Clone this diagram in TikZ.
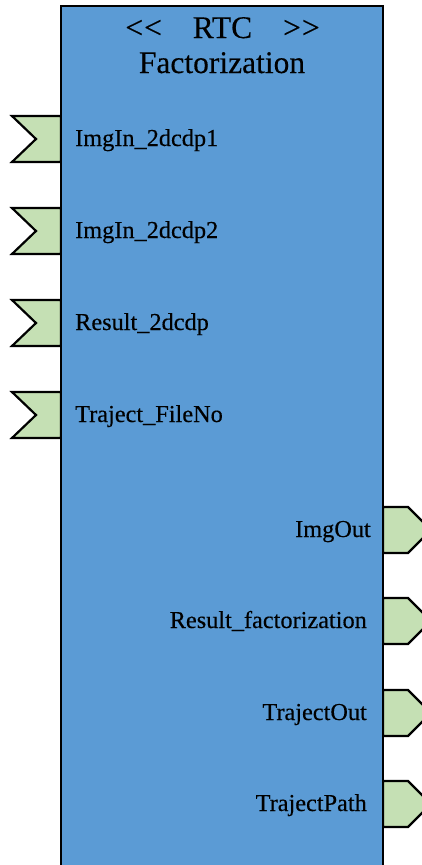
\documentclass[tikz,border=0pt]{standalone}
\usepackage{fontspec}
\setmainfont{Liberation Serif}
\newfontfamily\diagfont[FakeBold=0.35]{Liberation Serif}
\definecolor{blockblue}{HTML}{5B9BD5}
\definecolor{portgreen}{HTML}{C5E0B4}
\begin{document}
\begin{tikzpicture}[x=1pt,y=-1pt,
  blockline/.style={draw=black,line width=2.4pt,fill=blockblue},
  portshape/.style={draw=black,line width=2.2pt,fill=portgreen,line join=miter},
  portlabel/.style={inner sep=0pt,font=\diagfont\fontsize{24.3}{28}\selectfont},
  titletext/.style={inner sep=0pt,font=\diagfont\fontsize{31.5}{36}\selectfont}]
\clip (0,0) rectangle (422,865);
\fill[white] (0,0) rectangle (422,865);
% input ports
\foreach \yy in {139,231,323,415}{
  \draw[portshape] (12,\yy-23) -- (61,\yy-23) -- (61,\yy+23) -- (12,\yy+23) -- (36,\yy) -- cycle;
}
% output ports
\foreach \yy in {530,621,713,804}{
  \draw[portshape] (383,\yy-23) -- (408,\yy-23) -- (431,\yy) -- (408,\yy+23) -- (383,\yy+23) -- cycle;
}
% block
\draw[blockline] (61,6) rectangle (383,900);
% title
\node[titletext,anchor=base] (title1) at (222.5,38) {<\kern1pt<\hspace{31pt}RTC\hspace{31pt}>\kern1pt>};
\node[titletext,anchor=base] (title2) at (222,73) {Factorization};
% input labels
\node[portlabel,anchor=base west] (lin1) at (75,146) {ImgIn\_2dcdp1};
\node[portlabel,anchor=base west] (lin2) at (75,238) {ImgIn\_2dcdp2};
\node[portlabel,anchor=base west] (lin3) at (75,330) {Result\_2dcdp};
\node[portlabel,anchor=base west] (lin4) at (75,422) {Traject\_FileNo};
% output labels
\node[portlabel,anchor=base east] (lout1) at (371,537) {ImgOut};
\node[portlabel,anchor=base east] (lout2) at (367,628) {Result\_factorization};
\node[portlabel,anchor=base east] (lout3) at (367,720) {TrajectOut};
\node[portlabel,anchor=base east] (lout4) at (367,811) {TrajectPath};
\end{tikzpicture}
\end{document}
